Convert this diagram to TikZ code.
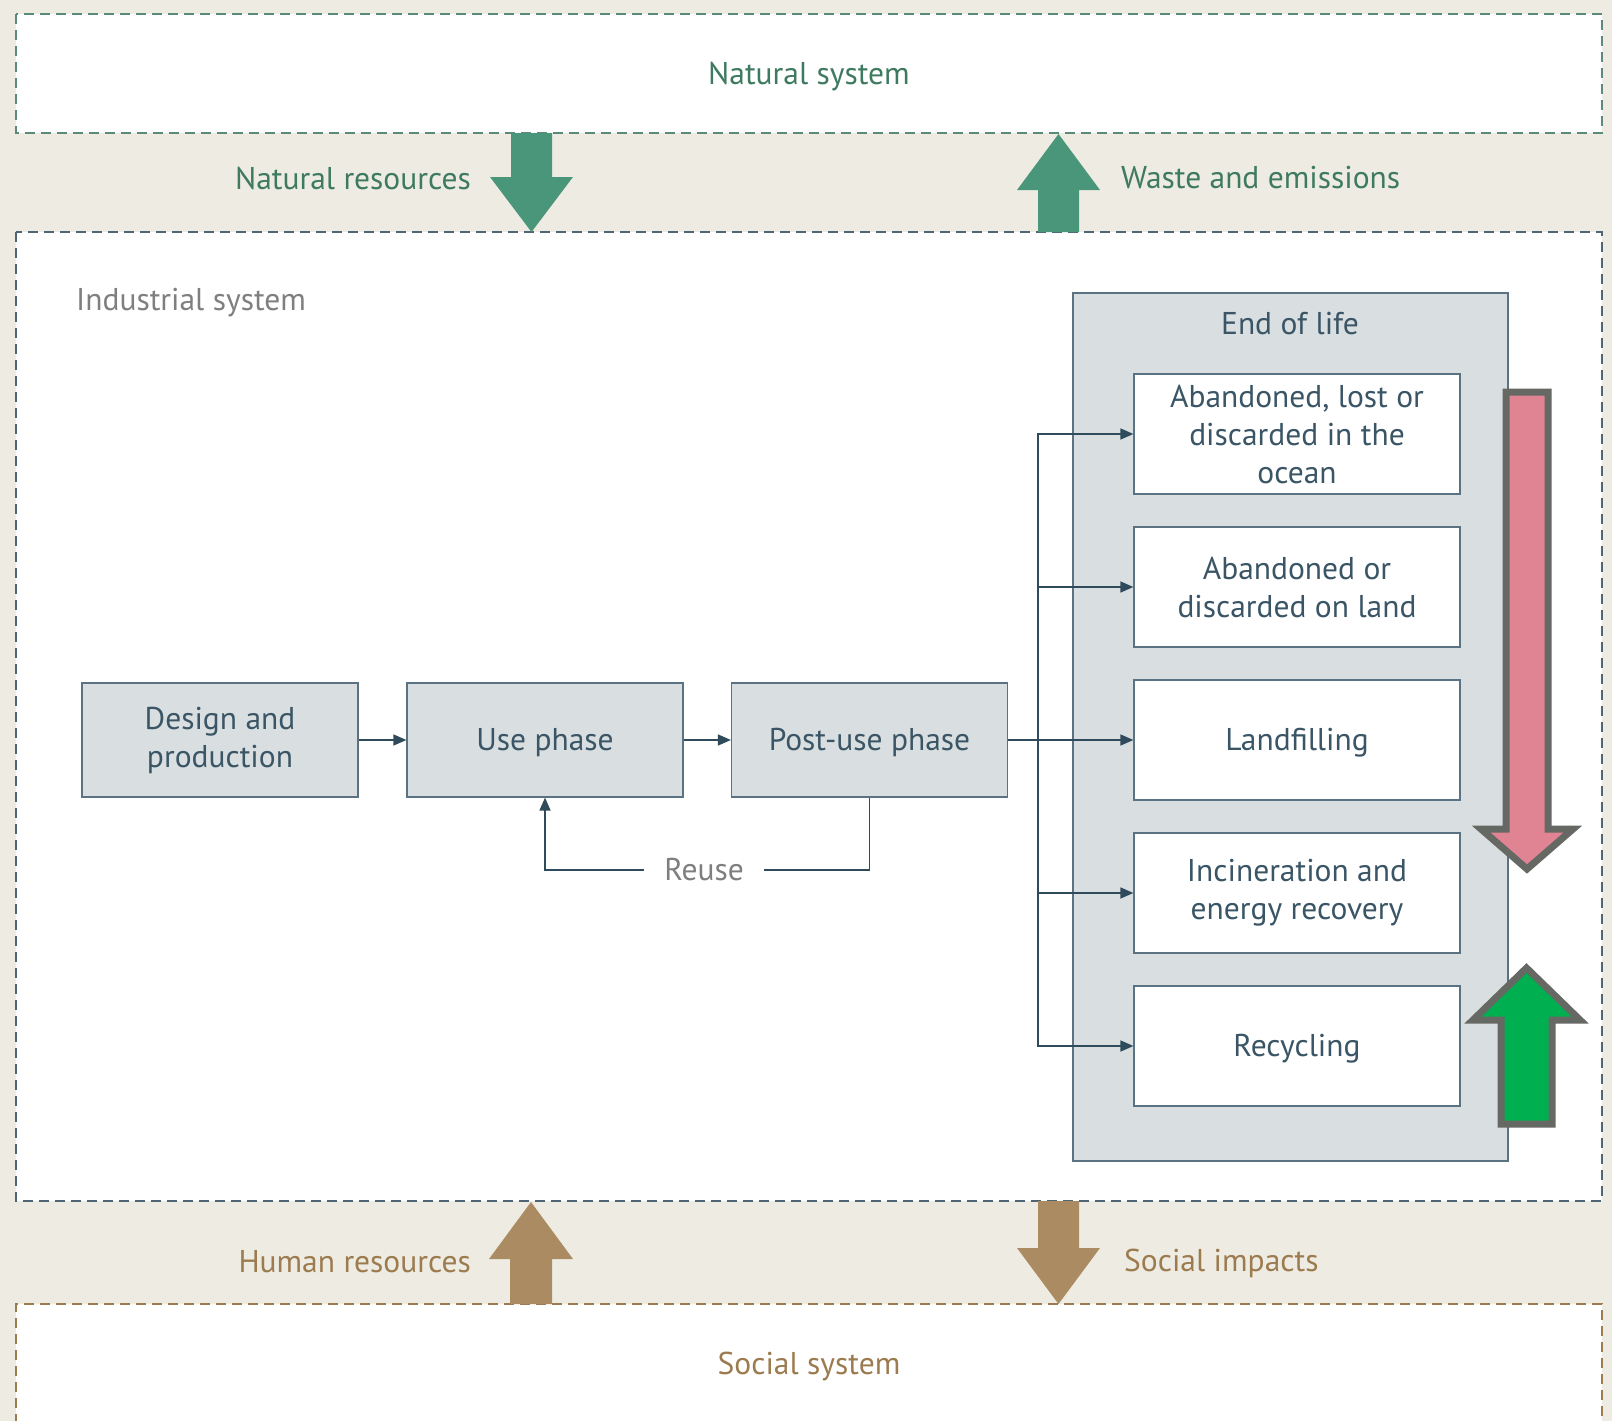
\documentclass[tikz,border=0pt]{standalone}
\usepackage{fontspec}
\setmainfont{PT Sans}
\usetikzlibrary{arrows.meta}
\definecolor{bgc}{HTML}{EEEBE3}
\definecolor{natc}{HTML}{3E7A60}
\definecolor{natarrow}{HTML}{4A967A}
\definecolor{natdash}{HTML}{5A8A7A}
\definecolor{inddash}{HTML}{4E6575}
\definecolor{socc}{HTML}{9C7B4F}
\definecolor{socarrow}{HTML}{AB8C62}
\definecolor{graytext}{HTML}{7F7F7F}
\definecolor{boxtext}{HTML}{3A5565}
\definecolor{boxfill}{HTML}{D9DEE0}
\definecolor{boxline}{HTML}{5B7282}
\definecolor{connc}{HTML}{2F4B5B}
\definecolor{pinkf}{HTML}{E08494}
\definecolor{greenf}{HTML}{00B050}
\definecolor{outl}{HTML}{666863}
\tikzset{
  txt/.style={font=\fontsize{31.5}{38}\selectfont, inner sep=0pt},
  flowbox/.style={draw=boxline, fill=boxfill, line width=1.2pt, minimum width=276pt, minimum height=114pt,
    text=boxtext, align=center, font=\fontsize{31.5}{38}\selectfont, inner sep=2pt},
  eolbox/.style={draw=boxline, fill=white, line width=1.2pt, minimum width=326pt, minimum height=120pt,
    text=boxtext, align=center, font=\fontsize{31.5}{38}\selectfont, inner sep=2pt},
  oneline/.style={text depth=1pt},
  conn/.style={draw=connc, line width=1.5pt},
  conna/.style={conn, -{Triangle[length=13pt,width=11pt]}},
  sysbox/.style={line width=1.5pt, dash pattern=on 10pt off 6pt, fill=white},
}
\begin{document}
\begin{tikzpicture}[x=1pt,y=-1pt]
\useasboundingbox (0,0) rectangle (1612,1421);
\clip (0,0) rectangle (1612,1421);
\fill[bgc] (0,0) rectangle (1612,1421);
% system boxes
\draw[sysbox, draw=natdash] (16,14) rectangle (1602,133);
\draw[sysbox, draw=inddash] (16,232) rectangle (1602,1201);
\draw[sysbox, draw=socc] (16,1440) -- (16,1304) -- (1602,1304) -- (1602,1440);
\node[txt, text=natc] (natsys) at (809,77) {Natural system};
\node[txt, text=socc] (socsys) at (809,1366) {Social system};
\node[txt, text=graytext, anchor=west] (indsys) at (76,303) {Industrial system};
% big arrows
\fill[natarrow] (511,133) -- (552,133) -- (552,177) -- (573,177) -- (531.5,232) -- (490,177) -- (511,177) -- cycle;
\fill[natarrow] (1038,232) -- (1079,232) -- (1079,190) -- (1100,190) -- (1058.5,134) -- (1017,190) -- (1038,190) -- cycle;
\fill[socarrow] (510,1304) -- (552,1304) -- (552,1259) -- (573,1259) -- (531,1202) -- (489,1259) -- (510,1259) -- cycle;
\fill[socarrow] (1038,1201) -- (1079,1201) -- (1079,1248) -- (1100,1248) -- (1058.5,1304) -- (1017,1248) -- (1038,1248) -- cycle;
\node[txt, text=natc, anchor=east] (natres) at (471,178) {Natural resources};
\node[txt, text=natc, anchor=west] (waste) at (1121,178) {Waste and emissions};
\node[txt, text=socc, anchor=east] (humres) at (471,1262) {Human resources};
\node[txt, text=socc, anchor=west] (socimp) at (1124,1263) {Social impacts};
% end of life container
\node[draw=boxline, fill=boxfill, line width=1.2pt, minimum width=435pt, minimum height=868pt, inner sep=0pt] (eol) at (1290.5,727) {};
\node[txt, text=boxtext] (eollabel) at (1290,324) {End of life};
\node[eolbox] (b1) at (1297,434) {Abandoned, lost or\\discarded in the\\ocean};
\node[eolbox] (b2) at (1297,587) {Abandoned or\\discarded on land};
\node[eolbox, oneline] (b3) at (1297,740) {Landfilling};
\node[eolbox] (b4) at (1297,893) {Incineration and\\energy recovery};
\node[eolbox, oneline] (b5) at (1297,1046) {Recycling};
% flow boxes
\node[flowbox] (design) at (220,740) {Design and\\production};
\node[flowbox, oneline] (use) at (545,740) {Use phase};
\node[flowbox, oneline] (post) at (869.5,740) {Post-use phase};
\draw[conna] (design) -- (use);
\draw[conna] (use) -- (post);
\node[txt, text=graytext, inner xsep=20pt, fill=white] (reuse) at (704,870) {Reuse};
\draw[conn] (post.south) |- (reuse.east);
\draw[conna] (reuse.west) -| (use.south);
\coordinate (split) at (1038,740);
\draw[conn] (post.east) -- (split);
\draw[conna] (split) |- (b1.west);
\draw[conna] (split) |- (b2.west);
\draw[conna] (split) -- (b3.west);
\draw[conna] (split) |- (b4.west);
\draw[conna] (split) |- (b5.west);
% pink and green arrows
\draw[fill=pinkf, draw=outl, line width=7pt, line join=miter]
  (1506,392) -- (1548,392) -- (1548,829) -- (1573,829) -- (1527,869) -- (1481,829) -- (1506,829) -- cycle;
\draw[fill=greenf, draw=outl, line width=7pt, line join=miter]
  (1501,1124) -- (1552,1124) -- (1552,1020) -- (1580,1020) -- (1526.5,968) -- (1473,1020) -- (1501,1020) -- cycle;
\end{tikzpicture}
\end{document}
